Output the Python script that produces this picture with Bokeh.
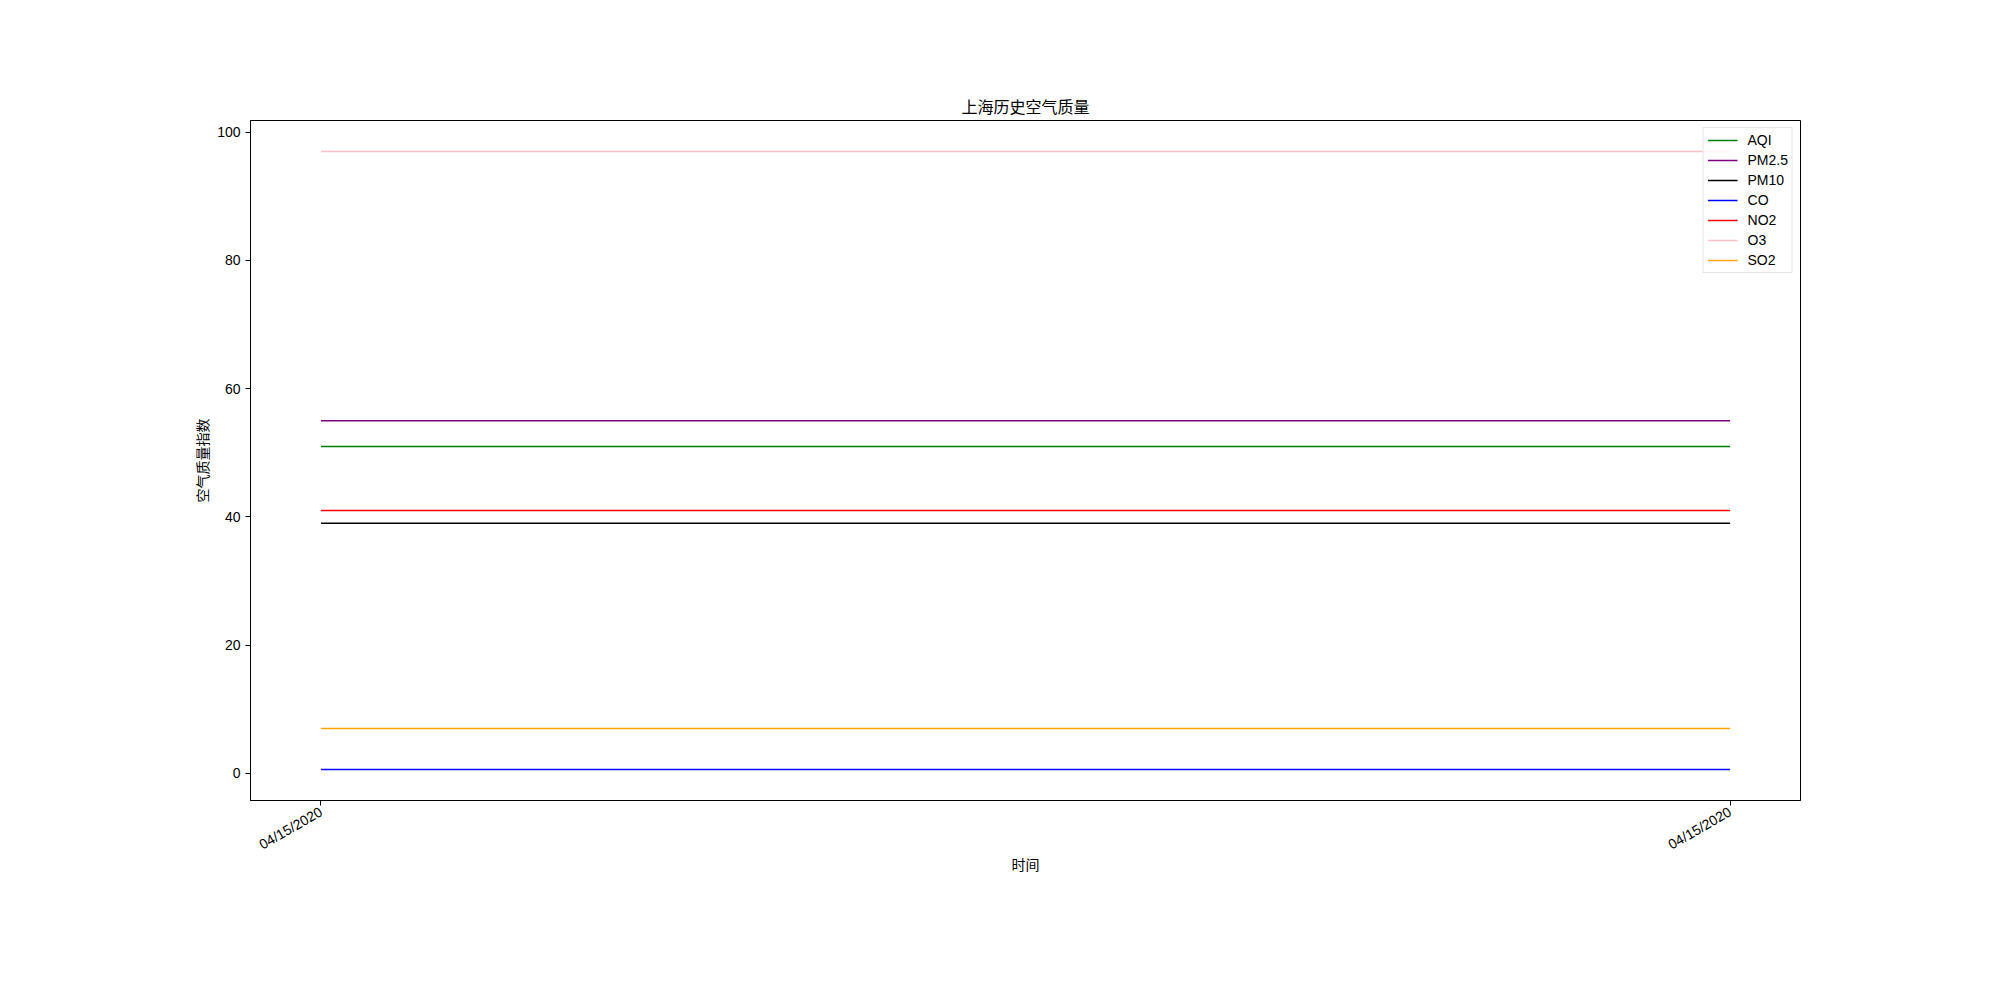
import math
from bokeh.plotting import figure
from bokeh.models import Range1d, FixedTicker, Legend, LegendItem
from bokeh.embed import file_html
from bokeh.resources import INLINE

# Data
x_idx = [0, 1]
x_labels = ["04/15/2020", "04/15/2020"]
series_names = ["AQI", "PM2.5", "PM10", "CO", "NO2", "O3", "SO2"]
aqi = [51, 51]
pm25 = [55, 55]
pm10 = [39, 39]
co = [0.6, 0.6]
no2 = [41, 41]
o3 = [97, 97]
so2 = [7, 7]
series_values = [aqi, pm25, pm10, co, no2, o3, so2]
series_colors = ["green", "purple", "black", "blue", "red", "pink", "orange"]
y_ticks = [0, 20, 40, 60, 80, 100]

FONT = "Liberation Sans, Noto Sans CJK SC"

p = figure(width=2000, height=1000, output_backend="svg", toolbar_location=None,
           x_range=Range1d(-0.05, 1.05), y_range=Range1d(-4.22, 101.82),
           min_border_left=250, min_border_right=200, min_border_top=120,
           min_border_bottom=200)

p.title.text = "上海历史空气质量"
p.title.align = "center"
p.title.text_font = FONT
p.title.text_font_size = "16px"
p.title.text_font_style = "normal"
p.title.text_color = "black"
p.title.standoff = 10

p.grid.visible = False
p.outline_line_color = "black"
p.outline_line_width = 1
p.outline_line_alpha = 1

items = []
for name, vals, col in zip(series_names, series_values, series_colors):
    r = p.line(x_idx, vals, line_color=col, line_width=1.5)
    items.append(LegendItem(label=name, renderers=[r]))

legend = Legend(items=items, location="top_right")
legend.label_text_font = FONT
legend.label_text_font_size = "14px"
legend.label_text_color = "black"
legend.glyph_width = 30
legend.glyph_height = 14
legend.label_height = 14
legend.spacing = 4
legend.padding = 4
legend.margin = 7
legend.border_line_color = "#cccccc"
legend.border_line_width = 1
legend.background_fill_alpha = 0.8
legend.label_standoff = 10
p.add_layout(legend, "center")

for ax in (p.xaxis[0], p.yaxis[0]):
    ax.axis_line_color = "black"
    ax.major_tick_line_color = "black"
    ax.major_tick_out = 5
    ax.major_tick_in = 0
    ax.minor_tick_line_color = None
    ax.major_label_text_font = FONT
    ax.major_label_text_font_size = "14px"
    ax.major_label_text_color = "black"
    ax.axis_label_text_font = FONT
    ax.axis_label_text_font_size = "14px"
    ax.axis_label_text_font_style = "normal"
    ax.axis_label_text_color = "black"

p.xaxis.ticker = FixedTicker(ticks=x_idx)
p.xaxis.major_label_overrides = {i: lab for i, lab in zip(x_idx, x_labels)}
p.xaxis.major_label_orientation = math.pi / 6
p.xaxis.axis_label = "时间"
p.xaxis.axis_label_standoff = -5

p.yaxis.ticker = FixedTicker(ticks=y_ticks)
p.yaxis.axis_label = "空气质量指数"
p.yaxis.axis_label_standoff = 3

open("out.html", "w").write(file_html(p, INLINE))
